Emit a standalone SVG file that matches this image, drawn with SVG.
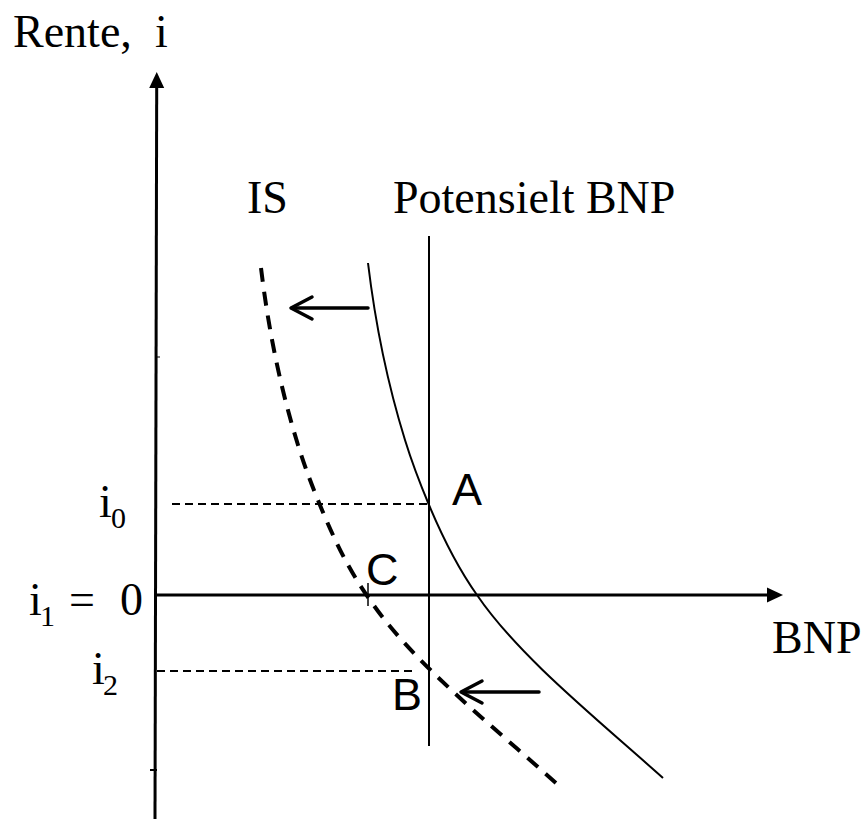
<svg xmlns="http://www.w3.org/2000/svg" width="865" height="819" viewBox="0 0 865 819">
<style>
.serif{font-family:"Liberation Serif","Times New Roman",serif;font-size:46px;fill:#000}
.sub{font-family:"Liberation Serif","Times New Roman",serif;font-size:30px;fill:#000}
.sans{font-family:"Liberation Sans",Arial,sans-serif;font-size:45px;fill:#000}
.axis{stroke:#000;stroke-width:3;fill:none}
.thin{stroke:#000;stroke-width:2;fill:none}
.guide{stroke:#000;stroke-width:2;stroke-dasharray:8 5;fill:none}
.curve{stroke:#000;stroke-width:2;fill:none}
.dcurve{stroke:#000;stroke-width:4;stroke-dasharray:14 10;fill:none}
.shift{stroke:#000;stroke-width:3.5;fill:none;stroke-linecap:round;stroke-linejoin:round}
</style>
<defs>
<marker id="tri" markerUnits="userSpaceOnUse" markerWidth="16" markerHeight="16" viewBox="0 0 16 16" refX="1" refY="8" orient="auto">
<path d="M0,0.5 L16,8 L0,15.5 Z" fill="#000"/>
</marker>
<path id="isPath" d="M368,263 C375.1,322 386.7,381 405,440 C411.7,461.7 419.9,483.3 429,505 C441.6,535 455.7,565 477,595 C518.5,656 594.7,717 663,778"/>
</defs>
<rect width="865" height="819" fill="#fff"/>
<g id="axes">
<line class="axis" x1="155" y1="819" x2="156.7" y2="87" marker-end="url(#tri)"/>
<line class="axis" x1="157" y1="595" x2="768" y2="595" marker-end="url(#tri)"/>
<line stroke="#000" stroke-width="1" x1="157" y1="357" x2="160" y2="357"/>
<line stroke="#000" stroke-width="2" x1="150" y1="770" x2="157" y2="770"/>
</g>
<g id="labels">
<text class="serif" x="13" y="47">Rente,</text>
<text class="serif" x="155" y="47">i</text>
<text class="serif" x="247" y="213">IS</text>
<text class="serif" x="393" y="213">Potensielt BNP</text>
<text class="serif" x="772" y="653">BNP</text>
<text class="serif" x="99" y="517">i</text>
<text class="sub" x="111" y="528">0</text>
<text class="serif" x="29" y="615">i</text>
<text class="sub" x="40" y="626">1</text>
<text class="serif" x="69" y="615">=</text>
<text class="serif" x="120" y="615">0</text>
<text class="serif" x="92" y="684">i</text>
<text class="sub" x="103" y="695">2</text>
</g>
<g id="potential-bnp">
<line class="thin" x1="429" y1="236" x2="429" y2="746"/>
</g>
<g id="connectors">
<line class="guide" x1="172" y1="504" x2="429" y2="504"/>
<line class="guide" x1="157" y1="671" x2="417" y2="671"/>
<line stroke="#000" stroke-width="1.5" x1="368" y1="583" x2="368" y2="606"/>
<g class="shift">
<line x1="368" y1="308" x2="292" y2="308"/>
<polyline points="312,297 291,308 312,319"/>
<line x1="539" y1="692" x2="463" y2="692"/>
<polyline points="482,681 461,692 482,703"/>
</g>
</g>
<g id="is-curve">
<use href="#isPath" class="curve"/>
</g>
<g id="is-shifted">
<use href="#isPath" class="dcurve" transform="translate(-107,5)"/>
</g>
<g id="point-A"><text class="sans" x="452" y="505">A</text></g>
<g id="point-B"><text class="sans" x="392" y="710">B</text></g>
<g id="point-C"><text class="sans" x="366" y="585">C</text></g>
</svg>
